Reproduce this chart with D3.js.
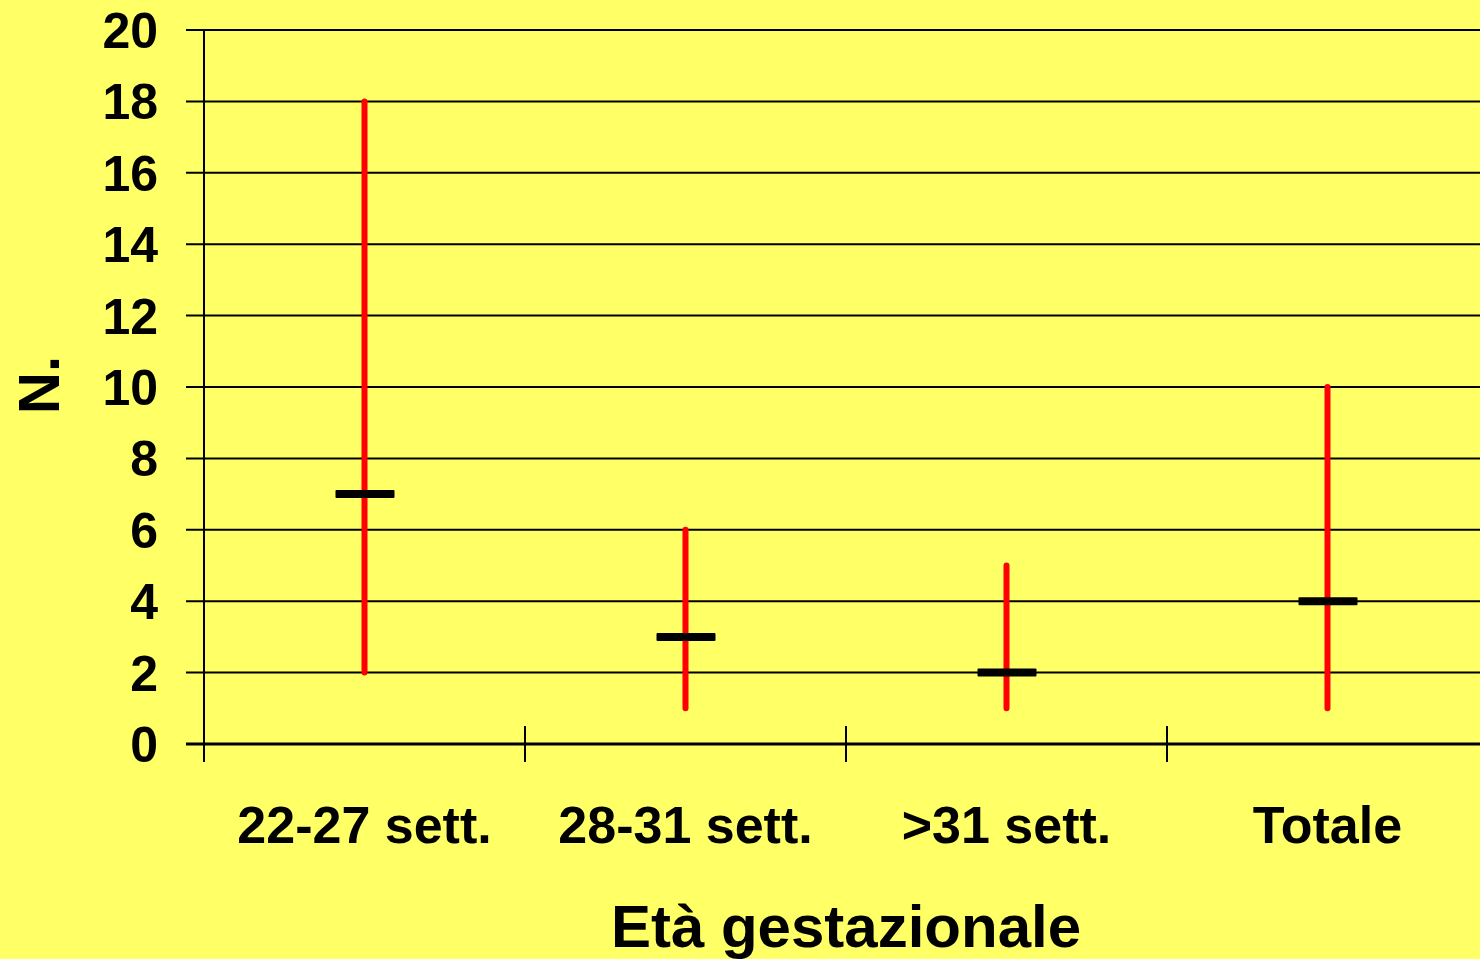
<!DOCTYPE html>
<html><head><meta charset="utf-8">
<script src="https://cdn.jsdelivr.net/npm/d3@7"></script>
<style>html,body{margin:0;padding:0;background:#FFFF66;overflow:hidden}</style>
</head><body>
<svg id="c" width="1480" height="959"></svg>
<script>
const categories = ["22-27 sett.", "28-31 sett.", ">31 sett.", "Totale"];
const maxValues = [18, 6, 5, 10];
const minValues = [2, 1, 1, 1];
const medianValues = [7, 3, 2, 4];
const yTicks = [0, 2, 4, 6, 8, 10, 12, 14, 16, 18, 20];
const yTitle = "N.";
const xTitle = "Età gestazionale";

(function(){
const svg = d3.select("#c");
const font = "'Liberation Sans', Arial, sans-serif";
svg.append("rect").attr("width",1480).attr("height",959).attr("fill","#FFFF66");

const mLeft = 204, mRight = 1488, mTop = 30, mBottom = 744;
const x = d3.scaleBand().domain(categories).range([mLeft, mRight]);
const y = d3.scaleLinear().domain([0, 20]).range([mBottom, mTop]);

// gridlines
svg.append("g").selectAll("line").data(yTicks.filter(d=>d>0)).join("line")
  .attr("x1", mLeft-18).attr("x2", mRight).attr("y1", d=>y(d)).attr("y2", d=>y(d))
  .attr("stroke","#000").attr("stroke-width",2);

// y axis line
svg.append("line").attr("x1",mLeft).attr("x2",mLeft).attr("y1",mTop).attr("y2",mBottom+18)
  .attr("stroke","#000").attr("stroke-width",2);
// x axis line
svg.append("line").attr("x1",mLeft-18).attr("x2",mRight).attr("y1",mBottom).attr("y2",mBottom)
  .attr("stroke","#000").attr("stroke-width",3);
// x ticks at band boundaries
const bounds = categories.map(c=>x(c)).concat([mRight]);
svg.append("g").selectAll("line").data(bounds.slice(1)).join("line")
  .attr("x1",d=>d).attr("x2",d=>d).attr("y1",mBottom-18).attr("y2",mBottom+18)
  .attr("stroke","#000").attr("stroke-width",2);

// y tick labels
svg.append("g").selectAll("text").data(yTicks).join("text")
  .attr("x", 158).attr("y", d=>y(d)).attr("dy","0.36em")
  .attr("text-anchor","end").attr("font-family",font).attr("font-weight","bold")
  .attr("font-size",50).attr("fill","#000").text(d=>d);

// x labels
svg.append("g").selectAll("text").data(categories).join("text")
  .attr("x", d=>x(d)+x.bandwidth()/2).attr("y", 843)
  .attr("text-anchor","middle").attr("font-family",font).attr("font-weight","bold")
  .attr("font-size",52).attr("fill","#000").text(d=>d);

// ranges
const data = categories.map((c,i)=>({c, max:maxValues[i], min:minValues[i], med:medianValues[i]}));
svg.append("g").selectAll("line").data(data).join("line")
  .attr("x1",d=>x(d.c)+x.bandwidth()/2).attr("x2",d=>x(d.c)+x.bandwidth()/2)
  .attr("y1",d=>y(d.max)).attr("y2",d=>y(d.min))
  .attr("stroke","#FF0000").attr("stroke-width",6).attr("stroke-linecap","round");
svg.append("g").selectAll("rect").data(data).join("rect")
  .attr("x",d=>x(d.c)+x.bandwidth()/2-29).attr("y",d=>y(d.med)-4)
  .attr("width",59).attr("height",8).attr("rx",1)
  .attr("fill","#000");

// titles
svg.append("text").attr("x",(mLeft+mRight)/2).attr("y",947).attr("text-anchor","middle")
  .attr("font-family",font).attr("font-weight","bold").attr("font-size",60).attr("fill","#000")
  .text(xTitle);
svg.append("text").attr("transform","translate(59,385) rotate(-90)").attr("text-anchor","middle")
  .attr("font-family",font).attr("font-weight","bold").attr("font-size",58).attr("fill","#000")
  .text(yTitle);
})();
</script>
</body></html>
